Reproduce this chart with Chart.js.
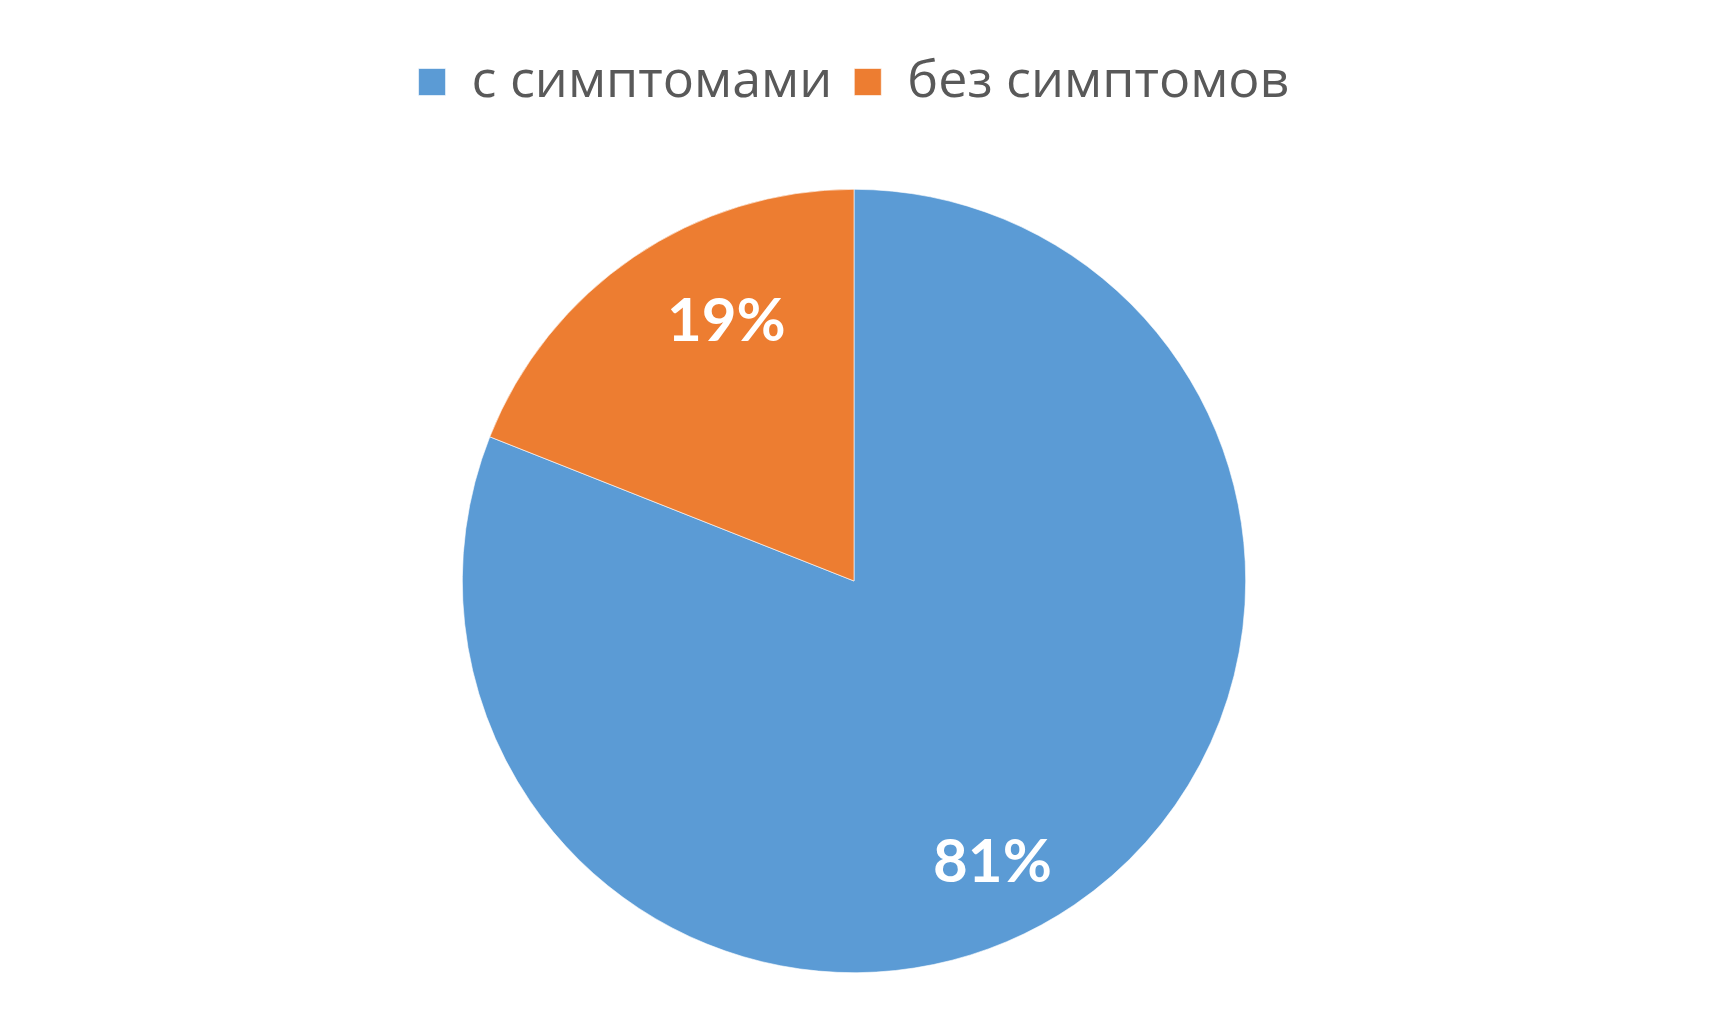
<!DOCTYPE html>
<html>
<head>
<meta charset="utf-8">
<script src="https://cdn.jsdelivr.net/npm/chart.js@4.4.1/dist/chart.umd.min.js"></script>
<style>
  html, body { margin: 0; padding: 0; background: #fff; }
  #wrap { width: 1719px; height: 1033px; }
</style>
</head>
<body>
<div id="wrap"><canvas id="chart"></canvas></div>
<script>
const labels = ['с симптомами', 'без симптомов'];
const values = [81, 19];
const colors = ['#5B9BD5', '#ED7D31'];

// white percentage labels inside slices (placed a bit past mid-angle, like Excel's best fit)
const sliceLabels = {
  id: 'sliceLabels',
  afterDatasetsDraw(chart) {
    const ctx = chart.ctx;
    const meta = chart.getDatasetMeta(0);
    const total = values.reduce((a, b) => a + b, 0);
    ctx.save();
    ctx.fillStyle = '#ffffff';
    ctx.font = 'bold 60px Lato, "Open Sans", sans-serif';
    ctx.textAlign = 'center';
    ctx.textBaseline = 'middle';
    meta.data.forEach((arc, i) => {
      const share = values[i] / total;
      const mid = (arc.startAngle + arc.endAngle) / 2 + 0.14;
      const r = arc.outerRadius * (0.72 + 0.1 * share);
      const x = arc.x + Math.cos(mid) * r;
      const y = arc.y + Math.sin(mid) * r;
      ctx.fillText(Math.round(share * 100) + '%', x, y);
    });
    ctx.restore();
  }
};

// push the pie further down below the legend
const legendGap = {
  id: 'legendGap',
  beforeInit(chart) {
    const origFit = chart.legend.fit;
    chart.legend.fit = function () {
      origFit.call(this);
      this.height += 71;
    };
  }
};

new Chart(document.getElementById('chart'), {
  type: 'pie',
  data: {
    labels: labels,
    datasets: [{
      data: values,
      backgroundColor: colors,
      borderColor: '#ffffff',
      borderWidth: 0.6
    }]
  },
  plugins: [sliceLabels, legendGap],
  options: {
    responsive: true,
    maintainAspectRatio: false,
    animation: false,
    layout: { padding: { top: 34, bottom: 60, right: 11 } },
    plugins: {
      tooltip: { enabled: false },
      legend: {
        position: 'top',
        labels: {
          boxWidth: 27,
          boxHeight: 27,
          padding: 22,
          color: '#595959',
          font: { family: '"Open Sans", sans-serif', size: 52 }
        }
      }
    }
  }
});
</script>
</body>
</html>
